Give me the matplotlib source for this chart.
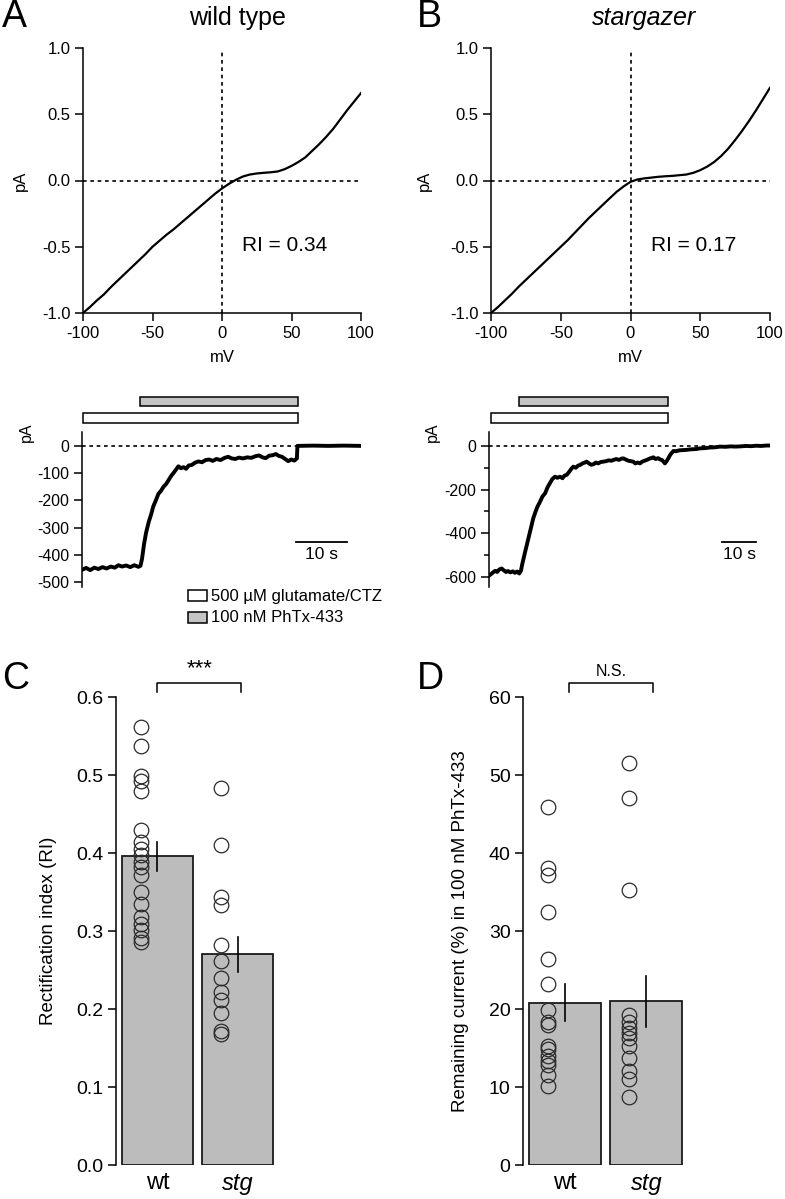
import matplotlib
matplotlib.use("Agg")
import matplotlib.pyplot as plt
from matplotlib.patches import Rectangle
import matplotlib.transforms as mtransforms

plt.rcParams['font.family'] = ['Liberation Sans', 'DejaVu Sans']
plt.rcParams['axes.linewidth'] = 1.1
plt.rcParams['xtick.major.width'] = 1.1
plt.rcParams['ytick.major.width'] = 1.1
plt.rcParams['axes.unicode_minus'] = False

# ---------------- data ----------------
iv_mv = [-100, -95, -90, -85, -80, -75, -70, -65, -60, -55, -50, -45, -40, -35, -30,
         -25, -20, -15, -10, -5, 0, 5, 10, 15, 20, 25, 30, 35, 40, 45, 50, 55, 60,
         65, 70, 75, 80, 85, 90, 95, 100]
iv_wt = [-1.00, -0.955, -0.905, -0.86, -0.805, -0.755, -0.705, -0.655, -0.605, -0.555,
         -0.50, -0.455, -0.41, -0.37, -0.325, -0.28, -0.235, -0.19, -0.145, -0.10,
         -0.06, -0.025, 0.005, 0.03, 0.045, 0.053, 0.058, 0.062, 0.068, 0.085, 0.11,
         0.14, 0.175, 0.225, 0.275, 0.33, 0.39, 0.46, 0.53, 0.595, 0.66]
iv_stg = [-1.00, -0.955, -0.905, -0.855, -0.80, -0.75, -0.70, -0.65, -0.60, -0.55,
          -0.50, -0.45, -0.395, -0.34, -0.285, -0.235, -0.185, -0.135, -0.086, -0.045,
          -0.01, 0.008, 0.016, 0.022, 0.028, 0.032, 0.035, 0.04, 0.045, 0.058, 0.078,
          0.105, 0.14, 0.185, 0.24, 0.305, 0.375, 0.45, 0.53, 0.615, 0.70]
ri_text = ["RI = 0.34", "RI = 0.17"]

trace_wt_t = [0.0, 0.8, 1.6, 2.4, 3.2, 4.0, 4.8, 5.6, 6.4, 7.1, 7.8, 8.6, 9.4, 10.2, 11.0,
              11.4, 11.7, 12.1, 12.5, 13.0, 13.5, 13.9, 14.4, 14.9, 15.4, 15.9, 16.4, 16.9,
              17.4, 17.9, 18.4, 18.8, 19.3, 19.8, 20.3, 20.8, 21.4, 22.0, 22.7, 23.4, 24.1,
              24.8, 25.5, 26.2, 27.0, 27.8, 28.5, 29.2, 29.9, 30.6, 31.4, 32.2, 33.0, 33.8,
              34.5, 35.2, 35.8, 36.5, 37.2, 37.8, 38.4, 39.0, 39.6, 40.2, 40.8, 41.4, 41.9,
              42.0, 45.0, 48.0, 51.0, 54.4]
trace_wt_i = [-455, -448, -456, -447, -452, -445, -450, -443, -447, -438, -443, -439, -445,
              -438, -444, -440, -415, -360, -318, -280, -250, -222, -200, -176, -165, -150,
              -140, -125, -110, -98, -85, -75, -82, -78, -84, -72, -70, -62, -57, -60, -52,
              -50, -55, -48, -52, -44, -40, -46, -48, -43, -46, -42, -44, -38, -35, -42,
              -45, -36, -34, -30, -37, -40, -48, -56, -50, -54, -46, 0, 1, 0, 1, 0]

trace_stg_t = [0.0, 0.6, 1.2, 1.8, 2.4, 3.0, 3.7, 4.3, 5.0, 5.6, 6.3, 7.0, 7.6, 8.3, 8.9,
               9.4, 9.8, 10.4, 11.1, 11.8, 12.5, 13.0, 13.6, 14.2, 15.0, 15.7, 16.5, 17.2,
               17.9, 18.6, 19.4, 20.1, 20.9, 21.6, 22.2, 22.8, 23.5, 24.2, 24.8, 25.5, 26.2,
               26.8, 27.5, 28.2, 28.7, 29.4, 30.0, 30.7, 31.4, 32.1, 32.8, 33.6, 34.4, 35.2,
               36.0, 36.6, 37.4, 38.2, 39.0, 39.5, 40.3, 41.0, 41.7, 42.4, 43.0, 43.7, 44.4,
               45.0, 45.7, 46.4, 47.2, 47.8, 48.3, 49.0, 49.7, 50.3, 50.8, 51.3, 51.7, 52.2,
               52.7, 53.3, 54.2, 55.0, 56.0, 57.0, 58.1, 59.0, 60.0, 61.0, 62.0, 63.5, 65.0,
               66.5, 67.9, 69.5, 71.0, 72.5, 73.8, 75.5, 77.0, 78.5, 80.0, 81.6, 82.6]
trace_stg_i = [-595, -588, -580, -573, -578, -567, -562, -570, -578, -574, -580, -575, -582,
               -576, -585, -572, -540, -500, -455, -410, -365, -332, -305, -280, -256, -232,
               -217, -190, -171, -152, -141, -146, -141, -148, -136, -133, -120, -105, -95,
               -100, -90, -87, -80, -76, -72, -80, -86, -84, -76, -80, -74, -72, -70, -66,
               -68, -64, -60, -64, -58, -57, -63, -68, -70, -72, -80, -76, -80, -72, -68,
               -64, -58, -55, -52, -60, -56, -62, -64, -72, -80, -70, -57, -40, -23, -24,
               -20, -19, -18, -16, -15, -14, -11, -10, -7, -6, -3, -4, -2, -3, -2, 0, -1,
               1, 0, 2, 2]

# drug application periods (s): glutamate/CTZ and PhTx-433
glu_wt = (0.2, 42.1)
phtx_wt = (11.3, 42.1)
glu_stg = (0.6, 52.6)
phtx_stg = (8.8, 52.6)

groups = ["wt", "stg"]
ri_wt = [0.561, 0.537, 0.499, 0.492, 0.480, 0.429, 0.414, 0.405, 0.398, 0.389, 0.382,
         0.372, 0.350, 0.334, 0.318, 0.309, 0.301, 0.291, 0.286]
ri_stg = [0.483, 0.410, 0.343, 0.333, 0.282, 0.261, 0.240, 0.222, 0.211, 0.195, 0.172, 0.168]
ri_mean = [0.396, 0.270]
ri_sem = [0.0185, 0.0225]

rem_wt = [45.9, 38.1, 37.2, 32.4, 26.4, 23.2, 19.9, 18.3, 17.9, 15.3, 14.9, 14.0, 13.3,
          12.8, 11.6, 10.1]
rem_stg = [51.6, 47.0, 35.3, 19.2, 18.3, 17.6, 16.9, 16.3, 15.3, 13.7, 12.1, 11.0, 8.7]
rem_mean = [20.8, 21.0]
rem_sem = [2.35, 3.25]

# ---------------- figure ----------------
W, H = 785, 1199
fig = plt.figure(figsize=(W / 100, H / 100), dpi=100)


def ax_px(l, t, r, b):
    return fig.add_axes([l / W, 1 - b / H, (r - l) / W, (b - t) / H])


BAR_GRAY = '#bcbcbc'
DOT = (0, (2.2, 2.2))


def iv_panel(l, r, y, ri):
    ax = ax_px(l, 48, r, 313)
    ax.plot(iv_mv, y, color='black', lw=1.6, zorder=3)
    ax.plot([0, 0], [-1, 0.98], color='black', lw=1.2, ls=DOT)
    ax.plot([-100, 100], [0, 0], color='black', lw=1.2, ls=DOT)
    ax.set_xlim(-100, 100)
    ax.set_ylim(-1, 1)
    ax.set_xticks([-100, -50, 0, 50, 100])
    ax.set_yticks([-1.0, -0.5, 0.0, 0.5, 1.0])
    ax.set_yticklabels(['-1.0', '-0.5', '0.0', '0.5', '1.0'])
    ax.set_xticklabels(['-100', '-50', '0', '50', '100'])
    for s in ['top', 'right']:
        ax.spines[s].set_visible(False)
    ax.tick_params(direction='out', length=6, labelsize=12, pad=3)
    ax.set_xlabel('mV', fontsize=12, labelpad=7)
    ax.set_ylabel('pA', fontsize=12)
    ax.text(14.5, -0.49, ri, fontsize=15, va='center', ha='left')
    return ax


axA = iv_panel(83, 361, iv_wt, ri_text[0])
axB = iv_panel(491, 770, iv_stg, ri_text[1])
axA.yaxis.set_label_coords(-0.198, 0.5)
axB.yaxis.set_label_coords(-0.211, 0.5)
fig.text(237 / W, 1 - 18 / H, 'wild type', fontsize=18, ha='center', va='center')
fig.text(644 / W, 1 - 18 / H, 'stargazer', fontsize=18, ha='center', va='center',
         style='italic')


def trace_panel(l, r, t, i, xmax, ylo, yhi, yticks, minor, glu, phtx, sb, pa_x):
    ax = ax_px(l, 432, r, 587)
    ax.plot([0, xmax], [0, 0], color='black', lw=1.2, ls=DOT, zorder=1)
    ax.plot(t, i, color='black', lw=2.8, zorder=3, solid_joinstyle='round')
    ax.set_xlim(0, xmax)
    ax.set_ylim(ylo, yhi)
    ax.set_yticks(yticks)
    ax.set_yticks(minor, minor=True)
    ax.set_xticks([])
    for s in ['top', 'right', 'bottom']:
        ax.spines[s].set_visible(False)
    ax.tick_params(axis='y', which='major', direction='out', length=6, labelsize=11.5, pad=3)
    ax.tick_params(axis='y', which='minor', direction='out', length=3.5, width=1.1)
    trans = mtransforms.blended_transform_factory(ax.transData, ax.transAxes)
    ax.add_patch(Rectangle((glu[0], 1.058), glu[1] - glu[0], 0.065, transform=trans,
                           facecolor='white', edgecolor='black', lw=1.1, clip_on=False))
    ax.add_patch(Rectangle((phtx[0], 1.168), phtx[1] - phtx[0], 0.058, transform=trans,
                           facecolor='#c4c4c4', edgecolor='black', lw=1.1, clip_on=False))
    ax.plot([sb[0], sb[0] + 10], [sb[1], sb[1]], color='black', lw=1.3)
    ax.text(sb[0] + 5, sb[2], '10 s', fontsize=12.5, ha='center', va='center')
    ax.text(pa_x, 1.0, 'pA', transform=ax.transAxes, rotation=90, fontsize=11.5,
            ha='center', va='center')
    return ax


axA2 = trace_panel(82, 361, trace_wt_t, trace_wt_i, 54.4, -518, 51,
                   [0, -100, -200, -300, -400, -500], [], glu_wt, phtx_wt,
                   (41.7, -352, -400), -0.2)
axB2 = trace_panel(489, 770, trace_stg_t, trace_stg_i, 82.6, -647, 64,
                   [0, -200, -400, -600], [-100, -300, -500], glu_stg, phtx_stg,
                   (68.5, -441, -500), -0.2)

# legend for drug bars
fig.patches.append(Rectangle((188 / W, 1 - 601 / H), 19 / W, 11 / H, transform=fig.transFigure,
                             facecolor='white', edgecolor='black', lw=1.1))
fig.patches.append(Rectangle((188 / W, 1 - 623 / H), 19 / W, 11 / H, transform=fig.transFigure,
                             facecolor='#c4c4c4', edgecolor='black', lw=1.1))
fig.text(211 / W, 1 - 596 / H, '500 µM glutamate/CTZ', fontsize=12, va='center', ha='left')
fig.text(211 / W, 1 - 618 / H, '100 nM PhTx-433', fontsize=12, va='center', ha='left')


def bar_panel(l, r, pts, mean, sem, ymax, yticks, yticklabels, ylabel, sig, sigsize,
              br, br_y, br_h):
    ax = ax_px(l, 697, r, 1165)
    x = [0, 1]
    ax.bar(x, mean, width=0.88, color=BAR_GRAY, edgecolor='#1a1a1a', lw=1.3, zorder=1)
    for xi, m, s in zip(x, mean, sem):
        ax.plot([xi, xi], [m - s, m + s], color='black', lw=1.2, zorder=3)
    for xi, p in zip(x, pts):
        ax.plot([xi - 0.21] * len(p), p, ls='none', marker='o', ms=10.5,
                mfc='none', mec='#2a2a2a', mew=0.9, zorder=4)
    ax.set_xlim(-0.515, 1.5)
    ax.set_ylim(0, ymax)
    ax.set_yticks(yticks)
    ax.set_yticklabels(yticklabels)
    ax.set_xticks(x)
    ax.set_xticklabels(groups, fontsize=17)
    ax.get_xticklabels()[1].set_style('italic')
    for s in ['top', 'right', 'bottom']:
        ax.spines[s].set_visible(False)
    ax.tick_params(axis='y', direction='out', length=6, labelsize=14, pad=3)
    ax.tick_params(axis='x', length=0, pad=5)
    ax.set_ylabel(ylabel, fontsize=13.5)
    ax.plot([br[0], br[0], br[1], br[1]], [br_y - br_h, br_y, br_y, br_y - br_h],
            color='black', lw=1.1, clip_on=False)
    ax.text((br[0] + br[1]) / 2, br_y + br_h * 0.4, sig, fontsize=sigsize, ha='center',
            va='bottom')
    return ax


axC = bar_panel(116, 278, [ri_wt, ri_stg], ri_mean, ri_sem, 0.6,
                [0.0, 0.1, 0.2, 0.3, 0.4, 0.5, 0.6],
                ['0.0', '0.1', '0.2', '0.3', '0.4', '0.5', '0.6'],
                'Rectification index (RI)', '***', 16, (0.0, 1.04), 0.618, 0.012)
axD = bar_panel(523, 687, [rem_wt, rem_stg], rem_mean, rem_sem, 60,
                [0, 10, 20, 30, 40, 50, 60], ['0', '10', '20', '30', '40', '50', '60'],
                'Remaining current (%) in 100 nM PhTx-433', 'N.S.', 11.5, (0.05, 1.08),
                61.8, 1.2)
axC.yaxis.set_label_coords(-0.364, 0.5)
axD.yaxis.set_label_coords(-0.33, 0.5)

# panel letters
for txt, px, py in [('A', 2, 17), ('B', 417, 17), ('C', 2, 679), ('D', 417, 679)]:
    fig.text(px / W, 1 - py / H, txt, fontsize=27, ha='left', va='center')

fig.savefig('out.png', dpi=100)
